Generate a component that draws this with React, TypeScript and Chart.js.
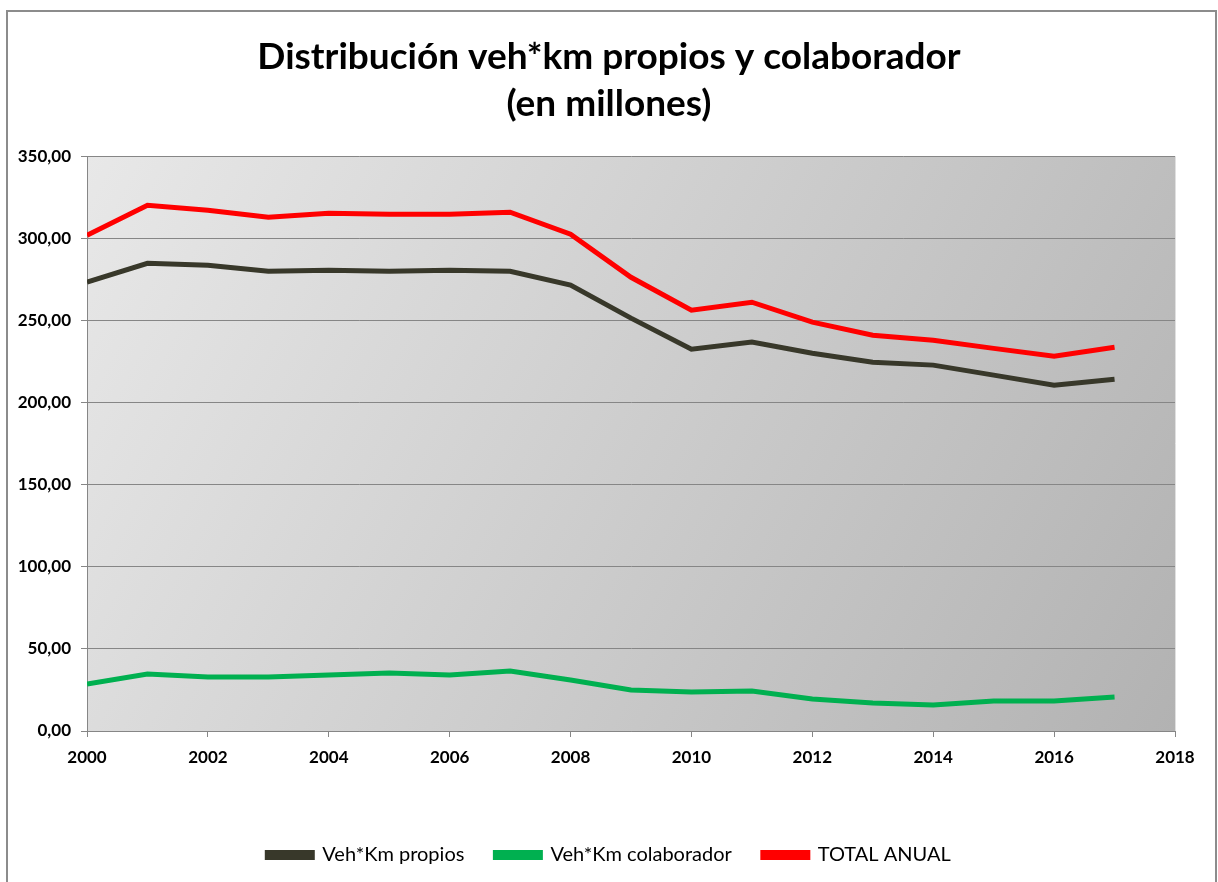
import React, { useEffect, useRef } from "react";
import { Chart, registerables } from "chart.js";

Chart.register(...registerables);

const years = [2000, 2001, 2002, 2003, 2004, 2005, 2006, 2007, 2008, 2009, 2010, 2011, 2012, 2013, 2014, 2015, 2016, 2017];
const propios = [273.3, 284.8, 283.6, 280.0, 280.6, 280.0, 280.6, 280.0, 271.5, 251.4, 232.5, 236.8, 230.0, 224.6, 222.8, 216.7, 210.6, 214.2];
const colaborador = [28.6, 34.7, 32.9, 32.9, 34.1, 35.3, 34.1, 36.5, 31.0, 25.0, 23.7, 24.3, 19.5, 17.0, 15.8, 18.3, 18.3, 20.7];
const totalAnual = [301.9, 320.2, 317.1, 312.8, 315.3, 314.7, 314.7, 315.9, 302.5, 276.3, 256.2, 261.1, 249.0, 241.0, 238.0, 233.0, 228.2, 233.7];
const seriesNames = ["Veh*Km propios", "Veh*Km colaborador", "TOTAL ANUAL"];
const titleLines = ["Distribución veh*km propios y colaborador", "(en millones)"];

const FONT = "Lato, 'Open Sans', sans-serif";

const framePlugin = {
  id: "frame",
  beforeDraw(chart: any) {
    const { ctx, chartArea } = chart;
    ctx.save();
    ctx.fillStyle = "#ffffff";
    ctx.fillRect(0, 0, chart.width, chart.height);
    ctx.strokeStyle = "#8c8c8c";
    ctx.lineWidth = 2;
    ctx.strokeRect(7, 11, 1209, 900);
    const g = ctx.createLinearGradient(chartArea.left, chartArea.top, chartArea.right, chartArea.bottom);
    g.addColorStop(0, "#e8e8e8");
    g.addColorStop(1, "#b2b2b2");
    ctx.fillStyle = g;
    ctx.fillRect(chartArea.left, chartArea.top, chartArea.right - chartArea.left, chartArea.bottom - chartArea.top);
    ctx.strokeStyle = "#e0e0e0";
    ctx.lineWidth = 1;
    ctx.beginPath();
    ctx.moveTo(chartArea.right + 0.5, chartArea.top);
    ctx.lineTo(chartArea.right + 0.5, chartArea.bottom);
    ctx.stroke();
    ctx.restore();
  },
};

export default function App() {
  const ref = useRef<HTMLCanvasElement | null>(null);
  useEffect(() => {
    if (!ref.current) return;
    const mk = (vals: number[]) => years.map((x, i) => ({ x, y: vals[i] }));
    const colors = ["#38382a", "#00b050", "#ff0000"];
    const sets = [propios, colaborador, totalAnual];
    const chart = new Chart(ref.current, {
      type: "line",
      data: {
        datasets: sets.map((s, i) => ({
          label: seriesNames[i],
          data: mk(s),
          borderColor: colors[i],
          backgroundColor: colors[i],
          borderWidth: 5,
          pointRadius: 0,
          tension: 0,
          fill: false,
          yAxisID: "y",
        })),
      },
      options: {
        responsive: false,
        animation: false,
        layout: { padding: { left: 0, right: 0, top: 0, bottom: 7 } },
        plugins: {
          tooltip: { enabled: false },
          title: {
            display: true,
            text: titleLines,
            color: "#000",
            font: { family: FONT, size: 37, weight: "bold", lineHeight: 1.26 },
            padding: { top: 34, bottom: 29 },
          },
          legend: {
            position: "bottom",
            labels: {
              color: "#000",
              font: { family: FONT, size: 20 },
              boxWidth: 45,
              boxHeight: 5,
              padding: 31,
            },
          },
        },
        scales: {
          x: {
            type: "linear",
            min: 2000,
            max: 2018,
            ticks: {
              stepSize: 2,
              color: "#000",
              font: { family: FONT, size: 17, weight: "bold" },
              padding: 10,
              callback: (v: any) => String(v),
              maxRotation: 0,
            },
            grid: { drawOnChartArea: false, drawTicks: true, tickLength: 6, color: "#868686" },
            border: { color: "#868686" },
            afterFit: (s: any) => { s.height = 83; },
          },
          y: {
            min: 0,
            max: 350,
            ticks: {
              stepSize: 50,
              color: "#000",
              font: { family: FONT, size: 17, weight: "bold" },
              padding: 10,
              callback: (v: any) => Number(v).toFixed(2).replace(".", ","),
            },
            grid: { color: "#868686", tickLength: 6 },
            border: { color: "#868686" },
            afterFit: (s: any) => { s.width = 87; },
          },
          yRight: {
            position: "right",
            min: 0,
            max: 350,
            ticks: { display: false },
            grid: { display: false, drawOnChartArea: false, drawTicks: false },
            border: { display: false },
            afterFit: (s: any) => { s.width = 43; },
          },
        },
      },
      plugins: [framePlugin],
    } as any);
    return () => chart.destroy();
  }, []);
  return (
    <div style={{ position: "absolute", left: 0, top: 0, width: 1218, height: 882 }}>
      <canvas ref={ref} width={1218} height={882} style={{ width: 1218, height: 882, display: "block" }} />
    </div>
  );
}
